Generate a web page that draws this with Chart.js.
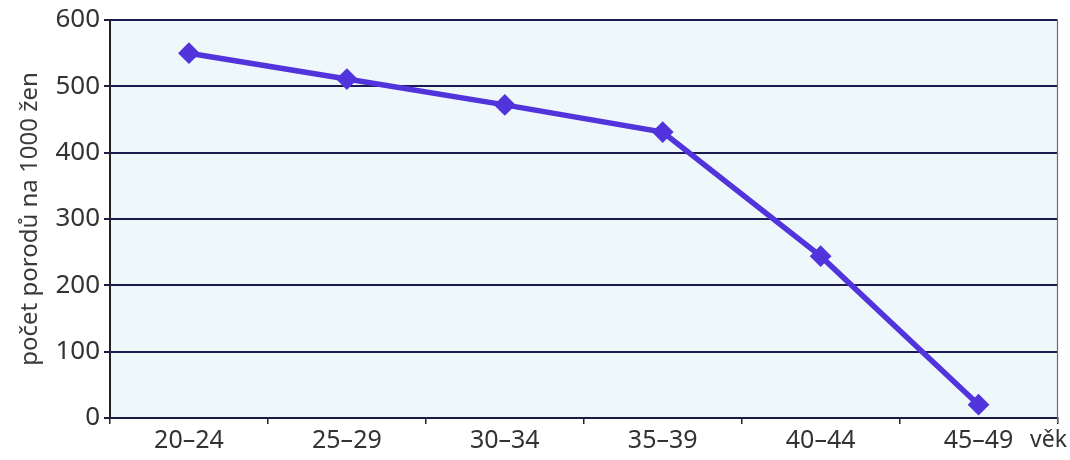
<!DOCTYPE html>
<html><head><meta charset="utf-8">
<script src="https://cdn.jsdelivr.net/npm/chart.js@4/dist/chart.umd.min.js"></script>
<style>html,body{margin:0;padding:0;background:#fff}#wrap{width:1070px;height:460px}</style>
</head><body><div id="wrap"><canvas id="c" width="1070" height="460"></canvas></div>
<script>
const categories = ["20–24","25–29","30–34","35–39","40–44","45–49"];
const births = [550, 511, 472, 431, 244, 20];
const yTicks = [0,100,200,300,400,500,600];
const yTitle = "počet porodů na 1000 žen";
const xUnit = "věk";

const bgPlugin = {
  id:'bg',
  beforeDraw(chart){
    const {ctx, chartArea:a} = chart;
    ctx.save();
    ctx.fillStyle = '#eef7f9';
    ctx.fillRect(a.left, a.top, a.right-a.left, a.bottom-a.top);
    ctx.restore();
  },
  afterDraw(chart){
    const {ctx, chartArea:a} = chart;
    ctx.save();
    ctx.strokeStyle = '#6a6a80';
    ctx.lineWidth = 1.2;
    ctx.beginPath(); ctx.moveTo(a.right, a.top); ctx.lineTo(a.right, a.bottom+5); ctx.stroke();
    ctx.fillStyle = '#333';
    ctx.font = '23px "Noto Sans"';
    ctx.textAlign = 'left'; ctx.textBaseline = 'middle';
    ctx.fillText(xUnit, 1030, 440);
    ctx.restore();
  }
};

new Chart(document.getElementById('c'), {
  type:'line',
  data:{labels:categories, datasets:[{
    data:births, borderColor:'#5234dc', backgroundColor:'#5234dc',
    borderWidth:5.5, pointStyle:'rectRot', pointRadius:7, pointHoverRadius:7, tension:0
  }]},
  options:{
    responsive:false, animation:false,
    layout:{padding:{top:20,right:11,left:0,bottom:0}},
    plugins:{legend:{display:false}, tooltip:{enabled:false}},
    scales:{
      x:{
        offset:true,
        grid:{offset:true, drawOnChartArea:false, color:'#222', lineWidth:1.5, tickLength:6},
        border:{color:'#1a1a40', width:2},
        ticks:{color:'#333', font:{family:'Noto Sans', size:25}, padding:2, maxRotation:0},
        afterFit(s){ s.height = 42; }
      },
      y:{
        min:0, max:600,
        afterBuildTicks(s){ s.ticks = yTicks.map(v=>({value:v})); },
        grid:{color:'#1c1a50', lineWidth:2, tickLength:6},
        border:{color:'#222', width:2},
        ticks:{color:'#333', font:{family:'Noto Sans', size:26}, padding:4},
        title:{display:true, text:yTitle, color:'#3a3a3a', font:{family:'Noto Sans', size:24}, padding:{top:16,bottom:0}},
        afterFit(s){ s.width = 110; }
      }
    }
  },
  plugins:[bgPlugin]
});
</script></body></html>
